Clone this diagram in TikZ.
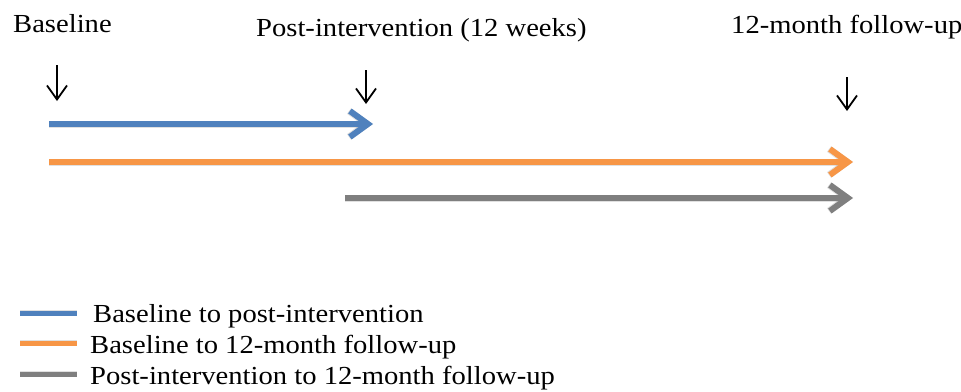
\documentclass[tikz,border=0pt]{standalone}
\usepackage{fontspec}
\setmainfont[FakeStretch=1.1]{Liberation Serif}
\usetikzlibrary{arrows.meta}
\definecolor{cblue}{HTML}{4F81BD}
\definecolor{corange}{HTML}{F79646}
\definecolor{cgray}{HTML}{7F7F7F}
\tikzset{
  lbl/.style={anchor=base west, inner sep=0pt, font=\fontsize{26}{29}\selectfont},
  tick/.style={line width=1.8pt, -{Straight Barb[length=14pt,width=20pt]}},
  bar/.style={line width=6pt, -{Straight Barb[length=18pt,width=26pt]}},
  barshadow/.style={line width=7pt, black, opacity=0.12, -{Straight Barb[length=18pt,width=26pt]}},
  leg/.style={line width=5pt},
  legshadow/.style={line width=6pt, black, opacity=0.12},
}
\begin{document}
\begin{tikzpicture}[x=1pt,y=-1pt]
\useasboundingbox (0,0) rectangle (961,391);
% top labels
\node[lbl] (tb) at (13,32) {Baseline};
\node[lbl] (tp) at (256,36) {Post-intervention (12 weeks)};
\node[lbl] (tf) at (731,33) {12-month follow-up};
% down ticks
\coordinate (a1) at (57,65);  \coordinate (a1e) at (57,101);
\coordinate (a2) at (366,70); \coordinate (a2e) at (366,104);
\coordinate (a3) at (847,77); \coordinate (a3e) at (847,111);
\draw[tick] (a1) -- (a1e);
\draw[tick] (a2) -- (a2e);
\draw[tick] (a3) -- (a3e);
% bars
\coordinate (b1s) at (49,124);  \coordinate (b1e) at (373,124);
\coordinate (b2s) at (49,162);  \coordinate (b2e) at (853,162);
\coordinate (b3s) at (345,198); \coordinate (b3e) at (853,198);
\begin{scope}[shift={(2,3)}]
\draw[barshadow] (b1s) -- (b1e);
\draw[barshadow] (b2s) -- (b2e);
\draw[barshadow] (b3s) -- (b3e);
\end{scope}
\draw[bar, cblue] (b1s) -- (b1e);
\draw[bar, corange] (b2s) -- (b2e);
\draw[bar, cgray] (b3s) -- (b3e);
% legend
\coordinate (l1s) at (20,313); \coordinate (l1e) at (77,313);
\coordinate (l2s) at (20,343); \coordinate (l2e) at (77,343);
\coordinate (l3s) at (20,374); \coordinate (l3e) at (77,374);
\begin{scope}[shift={(2,3)}]
\draw[legshadow] (l1s) -- (l1e);
\draw[legshadow] (l2s) -- (l2e);
\draw[legshadow] (l3s) -- (l3e);
\end{scope}
\draw[leg, cblue] (l1s) -- (l1e);
\draw[leg, corange] (l2s) -- (l2e);
\draw[leg, cgray] (l3s) -- (l3e);
\node[lbl] (t1) at (93,322) {Baseline to post-intervention};
\node[lbl] (t2) at (90,353) {Baseline to 12-month follow-up};
\node[lbl] (t3) at (90,384) {Post-intervention to 12-month follow-up};
\end{tikzpicture}
\end{document}
